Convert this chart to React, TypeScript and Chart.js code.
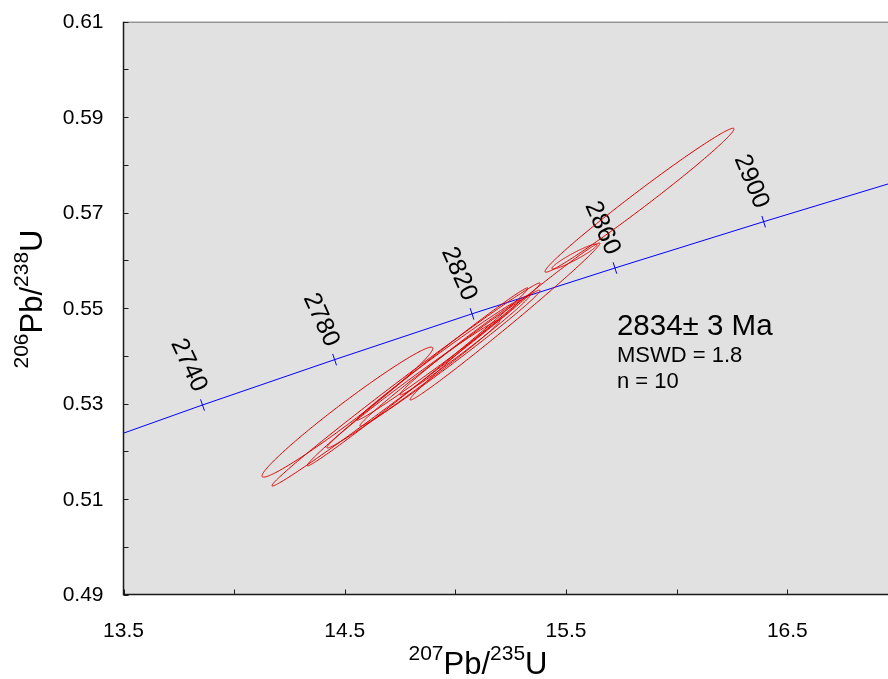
import React, { useEffect, useRef } from "react";
import { Chart, registerables } from "chart.js";

Chart.register(...registerables);

// Axis ticks
const xTickLabels = [13.5, 14.5, 15.5, 16.5];
const xMinorTicks = [14.0, 15.0, 16.0];
const yTickLabels = [0.49, 0.51, 0.53, 0.55, 0.57, 0.59, 0.61];
const yMinorTicks = [0.5, 0.52, 0.54, 0.56, 0.58, 0.6];

// Concordia curve (age in Ma, 207Pb/235U, 206Pb/238U)
const concordiaAge = [2715, 2740, 2780, 2820, 2860, 2900, 2932];
const concordiaX = [13.5, 13.857, 14.454, 15.075, 15.721, 16.393, 16.955];
const concordiaY = [0.5238, 0.5297, 0.5392, 0.5488, 0.5584, 0.5681, 0.576];
const labeledAges = [2740, 2780, 2820, 2860, 2900];

// Error ellipses: 207/235 centre & 2s, 206/238 centre & 2s, error correlation
const ellX = [14.512, 14.777, 14.829, 14.81, 14.923, 14.975, 15.043, 15.538, 15.832, 15.224];
const ellSx = [0.386, 0.606, 0.499, 0.391, 0.368, 0.407, 0.294, 0.102, 0.427, 0.429];
const ellY = [0.5282, 0.534, 0.5356, 0.5341, 0.5391, 0.5395, 0.5423, 0.5608, 0.5726, 0.5472];
const ellSy = [0.01362, 0.02127, 0.01865, 0.01341, 0.01257, 0.01425, 0.01048, 0.00262, 0.01508, 0.01645];
const ellRho = [0.9812, 0.9963, 0.9962, 0.9932, 0.9946, 0.9939, 0.992, 0.947, 0.9902, 0.9951];

// Result annotation
const resultLines = ["2834± 3 Ma", "MSWD = 1.8", "n = 10"];
const resultAnchor = { x: 15.73, y: 0.5444 };

const X_MIN = 13.5;
const X_MAX = 16.955;
const Y_MIN = 0.49;
const Y_MAX = 0.61;

const FONT = '"Liberation Sans", Arial, Helvetica, sans-serif';

type Part = { t: string; sup: boolean };
const titleParts = (a: string, b: string): Part[] => [
  { t: a, sup: true },
  { t: "Pb/", sup: false },
  { t: b, sup: true },
  { t: "U", sup: false },
];

function drawTitle(ctx: CanvasRenderingContext2D, parts: Part[]) {
  const MAIN = `31px ${FONT}`;
  const SUP = `21px ${FONT}`;
  let total = 0;
  const widths = parts.map((p) => {
    ctx.font = p.sup ? SUP : MAIN;
    const w = ctx.measureText(p.t).width;
    total += w;
    return w;
  });
  let x = -total / 2;
  ctx.textAlign = "left";
  ctx.textBaseline = "alphabetic";
  parts.forEach((p, i) => {
    ctx.font = p.sup ? SUP : MAIN;
    ctx.fillText(p.t, x, p.sup ? -14 : 0);
    x += widths[i];
  });
}

const concordiaPlugin = {
  id: "concordiaPlugin",
  beforeDraw(chart: any) {
    const { ctx, chartArea: a } = chart;
    ctx.save();
    ctx.fillStyle = "#e1e1e1";
    ctx.fillRect(a.left, a.top, a.right - a.left, a.bottom - a.top);
    ctx.restore();
  },
  afterDatasetsDraw(chart: any) {
    const { ctx, chartArea: a, scales } = chart;
    const px = (v: number) => scales.x.getPixelForValue(v);
    const py = (v: number) => scales.y.getPixelForValue(v);

    ctx.save();
    ctx.beginPath();
    ctx.rect(a.left, a.top, a.right - a.left, a.bottom - a.top);
    ctx.clip();

    // concordia age ticks and labels
    ctx.strokeStyle = "#0000ff";
    ctx.lineWidth = 1;
    ctx.fillStyle = "#000";
    ctx.font = `25px ${FONT}`;
    ctx.textAlign = "center";
    ctx.textBaseline = "middle";
    labeledAges.forEach((age) => {
      const i = concordiaAge.indexOf(age);
      const x0 = px(concordiaX[i]);
      const y0 = py(concordiaY[i]);
      const dx = px(concordiaX[i + 1]) - px(concordiaX[i - 1]);
      const dy = py(concordiaY[i + 1]) - py(concordiaY[i - 1]);
      const L = Math.hypot(dx, dy);
      const ux = dx / L;
      const uy = dy / L;
      const nx = uy;
      const ny = -ux; // perpendicular, pointing up-left
      ctx.beginPath();
      ctx.moveTo(x0 - 6 * nx, y0 - 6 * ny);
      ctx.lineTo(x0 + 6 * nx, y0 + 6 * ny);
      ctx.stroke();
      const cx = x0 + 42 * nx;
      const cy = y0 + 42 * ny;
      ctx.save();
      ctx.translate(cx, cy);
      ctx.rotate(Math.atan2(-ny, -nx) - 0.1);
      ctx.fillText(String(age), 0, 0);
      ctx.restore();
    });

    // error ellipses
    ctx.strokeStyle = "#e00000";
    ctx.lineWidth = 1;
    for (let i = 0; i < ellX.length; i++) {
      const rho = ellRho[i];
      const s = Math.sqrt(1 - rho * rho);
      ctx.beginPath();
      const N = 240;
      for (let k = 0; k <= N; k++) {
        const t = (k / N) * Math.PI * 2;
        const xv = ellX[i] + ellSx[i] * Math.cos(t);
        const yv = ellY[i] + ellSy[i] * (rho * Math.cos(t) + s * Math.sin(t));
        const X = px(xv);
        const Y = py(yv);
        if (k === 0) ctx.moveTo(X, Y);
        else ctx.lineTo(X, Y);
      }
      ctx.closePath();
      ctx.stroke();
    }

    // result text
    ctx.fillStyle = "#000";
    ctx.textAlign = "left";
    ctx.textBaseline = "alphabetic";
    const ax = px(resultAnchor.x);
    const ay = py(resultAnchor.y);
    ctx.font = `29.5px ${FONT}`;
    ctx.fillText(resultLines[0], ax, ay);
    ctx.font = `22px ${FONT}`;
    ctx.fillText(resultLines[1], ax, ay + 27);
    ctx.fillText(resultLines[2], ax, ay + 53);
    ctx.restore();

    // frame
    ctx.save();
    ctx.strokeStyle = "#707070";
    ctx.lineWidth = 1;
    ctx.beginPath();
    ctx.moveTo(a.left, a.top + 0.5);
    ctx.lineTo(a.right, a.top + 0.5);
    ctx.stroke();
    ctx.strokeStyle = "#1a1a1a";
    ctx.lineWidth = 1.5;
    ctx.beginPath();
    ctx.moveTo(a.left, a.top);
    ctx.lineTo(a.left, a.bottom);
    ctx.lineTo(a.right, a.bottom);
    ctx.stroke();

    // inward ticks
    ctx.lineWidth = 1;
    ctx.beginPath();
    [...yTickLabels, ...yMinorTicks].forEach((v) => {
      const y = Math.round(py(v)) + 0.5;
      ctx.moveTo(a.left, y);
      ctx.lineTo(a.left + 5, y);
    });
    [...xTickLabels, ...xMinorTicks].forEach((v) => {
      const x = Math.round(px(v)) + 0.5;
      ctx.moveTo(x, a.bottom);
      ctx.lineTo(x, a.bottom - 5);
    });
    ctx.stroke();

    // tick labels
    ctx.fillStyle = "#000";
    ctx.font = `21px ${FONT}`;
    ctx.textAlign = "right";
    ctx.textBaseline = "middle";
    yTickLabels.forEach((v) => ctx.fillText(v.toFixed(2), a.left - 20, py(v) + 1));
    ctx.textAlign = "center";
    ctx.textBaseline = "alphabetic";
    xTickLabels.forEach((v) => ctx.fillText(v.toFixed(1), px(v), a.bottom + 42));

    // axis titles
    ctx.save();
    ctx.translate(478, 674);
    drawTitle(ctx, titleParts("207", "235"));
    ctx.restore();
    ctx.save();
    ctx.translate(42, 299);
    ctx.rotate(-Math.PI / 2);
    drawTitle(ctx, titleParts("206", "238"));
    ctx.restore();
    ctx.restore();
  },
};

export default function App() {
  const ref = useRef<HTMLCanvasElement>(null);
  useEffect(() => {
    const chart = new Chart(ref.current as HTMLCanvasElement, {
      type: "scatter",
      data: {
        datasets: [
          {
            label: "Concordia",
            data: concordiaX.map((x, i) => ({ x, y: concordiaY[i] })),
            showLine: true,
            borderColor: "#0000ff",
            backgroundColor: "#0000ff",
            borderWidth: 1,
            pointRadius: 0,
            tension: 0,
          },
        ],
      },
      options: {
        animation: false,
        responsive: false,
        maintainAspectRatio: false,
        devicePixelRatio: 1,
        events: [],
        layout: { padding: { left: 123.5, top: 21.7, right: 0, bottom: 84.5 } },
        scales: {
          x: { type: "linear", min: X_MIN, max: X_MAX, display: false },
          y: { type: "linear", min: Y_MIN, max: Y_MAX, display: false },
        },
        plugins: { legend: { display: false }, tooltip: { enabled: false } },
      },
      plugins: [concordiaPlugin],
    });
    return () => chart.destroy();
  }, []);
  return (
    <div style={{ position: "fixed", left: 0, top: 0, width: 888, height: 679, background: "#fff" }}>
      <canvas ref={ref} width={888} height={679} style={{ width: 888, height: 679, display: "block" }} />
    </div>
  );
}
